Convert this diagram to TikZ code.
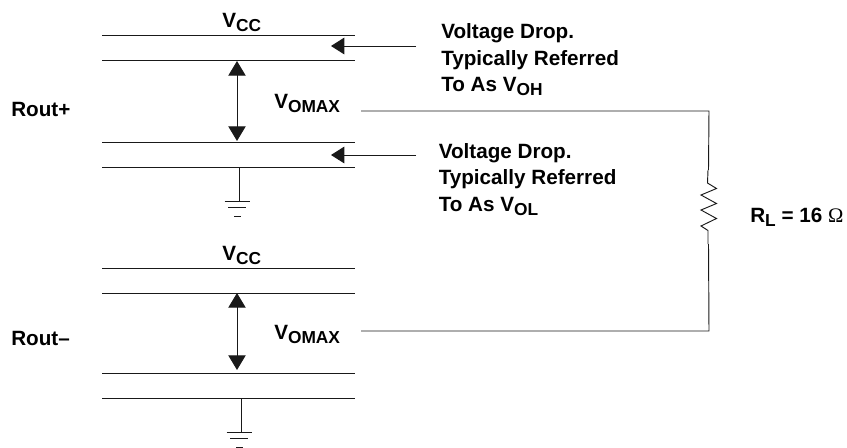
\documentclass[tikz,border=0pt]{standalone}
\usepackage{fontspec}
\setmainfont{Liberation Sans}
\newfontfamily\omegafont{Liberation Serif}
\usetikzlibrary{arrows.meta}
\newcommand{\subs}[1]{\raisebox{-3pt}{\fontsize{13}{15}\selectfont #1}}
\tikzset{
  x=0.75pt,y=-0.75pt,
  lbl/.style={font=\fontsize{15.5}{20}\selectfont\bfseries,inner sep=0pt,text=black},
  para/.style={lbl,align=left,anchor=base west},
  rail/.style={draw=black!90,line width=0.7pt},
  wire/.style={draw=black!90,line width=0.7pt},
  tipl/.style={-{Triangle[length=10pt,width=12.5pt]}},
  tipb/.style={{Triangle[length=11pt,width=13pt]}-{Triangle[length=11pt,width=13pt]}},
}
\begin{document}
\begin{tikzpicture}
\useasboundingbox (0,0) rectangle (847,447);
% rails
\foreach \n/\yy in {a/35,b/60,c/142,d/167,e/268,f/293,g/373,h/398}{
  \coordinate (\n L) at (102,\yy);
  \coordinate (\n R) at (355,\yy);
  \draw[rail] (\n L) -- (\n R);
}
% arrows
\coordinate (ts1) at (416,46); \coordinate (te1) at (331,46);
\coordinate (ts2) at (416,155); \coordinate (te2) at (331,155);
\draw[wire,tipl] (ts1) -- (te1);
\draw[wire,tipl] (ts2) -- (te2);
\coordinate (u1) at (237,61); \coordinate (d1) at (237,141);
\coordinate (u2) at (237,293); \coordinate (d2) at (237,370);
\draw[wire,tipb] (u1) -- (d1);
\draw[wire,tipb] (u2) -- (d2);
% grounds
\foreach \n/\xx/\yy in {p/239/167,q/241/398}{
  \coordinate (\n0) at (\xx,\yy);
  \coordinate (\n1) at (\xx,\yy+34);
  \draw[wire] (\n0) -- (\n1);
  \draw[wire] (\xx-14.5,\yy+34) -- (\xx+10.5,\yy+34);
  \draw[wire] (\xx-11,\yy+40.5) -- (\xx+7,\yy+40.5);
  \draw[wire] (\xx-5,\yy+49) -- (\xx+2,\yy+49);
}
% load
\coordinate (w1) at (361,111);
\coordinate (w2) at (709,111);
\coordinate (w3) at (361,331);
\coordinate (w4) at (709,331);
\coordinate (r1) at (708,170);
\coordinate (r2) at (708,244);
\draw[wire] (w1) -- (w2) -- (708.5,170);
\draw[wire] (w3) -- (w4) -- (708.5,244);
\draw[wire,line join=miter] (r1) -- (707.5,183) -- (716.5,188.5) -- (701,195) -- (716.5,203.5) -- (701,210) -- (716.5,218.5) -- (701,226) -- (708,230.5) -- (r2);
% labels
\node[lbl,anchor=base west] (vcc1) at (222,27) {V\subs{CC}};
\node[lbl,anchor=base west] (vcc2) at (222,260) {V\subs{CC}};
\node[lbl,anchor=base west] (vo1) at (274,108) {V\subs{OMAX}};
\node[lbl,anchor=base west] (vo2) at (274,339) {V\subs{OMAX}};
\node[lbl,anchor=base west] (rp) at (11,116.5) {Rout+};
\node[lbl,anchor=base west] (rm) at (11,345) {Rout--};
\node[para] (t1a) at (441,38) {Voltage Drop.};
\node[para] (t1b) at (441,65) {Typically Referred};
\node[para] (t1c) at (441,91) {To As V\subs{OH}};
\node[para] (t2a) at (438.5,158) {Voltage Drop.};
\node[para] (t2b) at (438.5,184.5) {Typically Referred};
\node[para] (t2c) at (438.5,211) {To As V\subs{OL}};
\node[lbl,anchor=base west] (rl) at (750,222) {R\subs{L} = 16 {\omegafont\mdseries Ω}};
\end{tikzpicture}
\end{document}
